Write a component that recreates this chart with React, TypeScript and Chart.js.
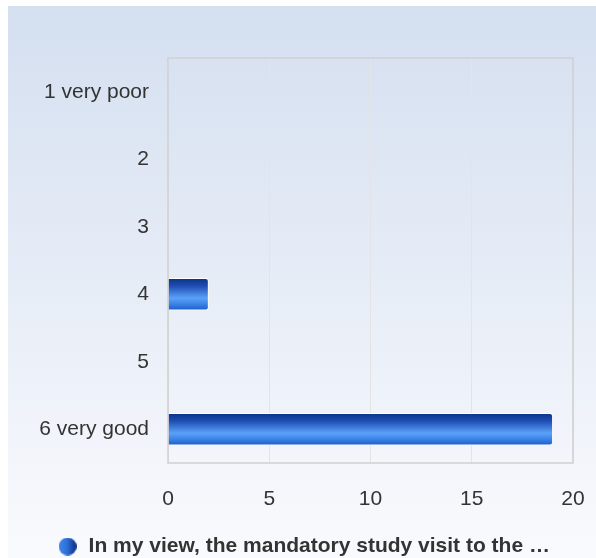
import React, { useEffect, useRef } from "react";
import { Chart, registerables } from "chart.js";

Chart.register(...registerables);

const categories = ["1 very poor", "2", "3", "4", "5", "6 very good"];
const values = [0, 0, 0, 2, 0, 19];
const seriesLabel = "In my view, the mandatory study visit to the …";
const xTicks = [0, 5, 10, 15, 20];

const FONT = "'Liberation Sans', Arial, Helvetica, sans-serif";

function makeLegendIcon(): HTMLCanvasElement {
  const c = document.createElement("canvas");
  c.width = 18;
  c.height = 18;
  const g = c.getContext("2d")!;
  const grad = g.createLinearGradient(0, 0, 18, 0);
  grad.addColorStop(0, "#3f86e6");
  grad.addColorStop(0.45, "#2f72dc");
  grad.addColorStop(1, "#0b2a7e");
  g.fillStyle = grad;
  g.beginPath();
  g.arc(9, 9, 9, 0, Math.PI * 2);
  g.fill();
  return c;
}

export default function App() {
  const ref = useRef<HTMLCanvasElement>(null);
  useEffect(() => {
    if (!ref.current) return;
    const icon = makeLegendIcon();
    const bgPlugin = {
      id: "bg",
      beforeDraw(chart: any) {
        const { ctx, width, height } = chart;
        const g = ctx.createLinearGradient(0, 0, 0, 552);
        g.addColorStop(0, "#d4dff0");
        g.addColorStop(1, "#f9fafd");
        ctx.save();
        ctx.fillStyle = g;
        ctx.fillRect(0, 0, width, height);
        ctx.restore();
      },
      afterDatasetsDraw(chart: any) {
        const { ctx, chartArea: a } = chart;
        ctx.save();
        ctx.strokeStyle = "#cfcfcf";
        ctx.lineWidth = 1.5;
        ctx.strokeRect(a.left, a.top, a.right - a.left, a.bottom - a.top);
        ctx.restore();
      },
    };
    const chart = new Chart(ref.current, {
      type: "bar",
      data: {
        labels: categories,
        datasets: [
          {
            label: seriesLabel,
            data: values,
            barThickness: 32,
            borderRadius: 3,
            borderWidth: 1,
            borderColor: "#ffffff",
            borderSkipped: "start",
            pointStyle: icon as any,
            backgroundColor: (ctx: any) => {
              const chart = ctx.chart;
              const ys = chart.scales?.y;
              if (!ys || ctx.dataIndex == null) return "#2f72dc";
              const c = ys.getPixelForValue(ctx.dataIndex);
              if (!isFinite(c)) return "#2f72dc";
              const top = c - 16;
              const g = chart.ctx.createLinearGradient(0, top, 0, top + 32);
              g.addColorStop(0, "#0c3386");
              g.addColorStop(0.25, "#1f4fb5");
              g.addColorStop(0.62, "#5aa2f8");
              g.addColorStop(0.8, "#3d84e8");
              g.addColorStop(1, "#1d5cc9");
              return g;
            },
          } as any,
        ],
      },
      options: {
        indexAxis: "y",
        animation: false,
        responsive: false,
        layout: { padding: { top: 52, right: 23, left: 26, bottom: 0 } },
        scales: {
          x: {
            min: 0,
            max: 20,
            afterBuildTicks: (s: any) => {
              s.ticks = xTicks.map((v) => ({ value: v }));
            },
            afterFit: (s: any) => {
              s.height = 69;
              s.paddingLeft = 0;
              s.paddingRight = 0;
            },
            grid: { color: "#e4e4e4", drawTicks: false, lineWidth: 1 },
            border: { display: false },
            ticks: { color: "#333333", font: { family: FONT, size: 21 }, padding: 24 },
          },
          y: {
            afterFit: (s: any) => {
              s.width = 134;
            },
            grid: { display: false, drawTicks: false },
            border: { display: false },
            ticks: { color: "#333333", font: { family: FONT, size: 21 }, padding: 19 },
          },
        },
        plugins: {
          legend: {
            position: "bottom",
            labels: {
              usePointStyle: true,
              color: "#333333",
              font: { family: FONT, size: 21, weight: "bold" },
              padding: 4,
              boxHeight: 18,
            },
          },
          tooltip: { enabled: false },
        },
      } as any,
      plugins: [bgPlugin],
    });
    return () => chart.destroy();
  }, []);
  return (
    <div style={{ position: "fixed", left: 8, top: 6 }}>
      <canvas ref={ref} width={588} height={561} style={{ display: "block", width: 588, height: 561 }} />
    </div>
  );
}
